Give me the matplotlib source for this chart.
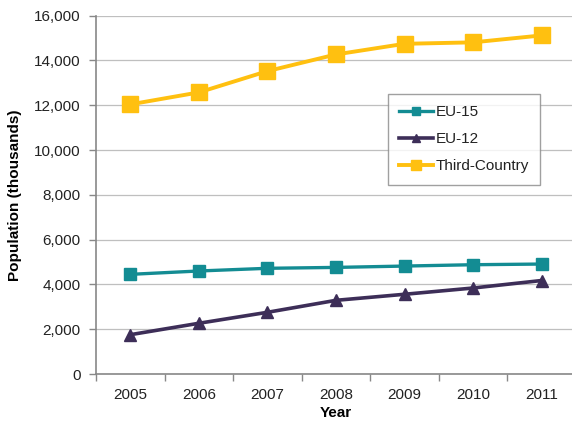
import matplotlib.pyplot as plt
import numpy as np

years = ["2005", "2006", "2007", "2008", "2009", "2010", "2011"]
eu15 = [4450, 4600, 4720, 4760, 4820, 4880, 4910]
eu12 = [1755, 2265, 2755, 3290, 3560, 3840, 4175]
third_country = [12040, 12575, 13525, 14270, 14745, 14810, 15120]
yticks = [0, 2000, 4000, 6000, 8000, 10000, 12000, 14000, 16000]

plt.rcParams['font.family'] = ['Liberation Sans', 'DejaVu Sans']

W, H = 572, 421
fig = plt.figure(figsize=(W / 100, H / 100), dpi=100)
# plot area runs past the right edge of the figure, like the original export
left, right, top, bottom = 96, 576, 15.7, 374
ax = fig.add_axes([left / W, 1 - bottom / H, (right - left) / W, (bottom - top) / H])

x = np.arange(len(years))
ax.plot(x, eu15, color="#138C93", lw=2.4, marker="s", ms=8.5, label="EU-15", zorder=3)
ax.plot(x, eu12, color="#3D2E58", lw=2.6, marker="^", ms=9, label="EU-12", zorder=3)
ax.plot(x, third_country, color="#FFC010", lw=2.8, marker="s", ms=11, label="Third-Country", zorder=3)

ax.set_xlim(-0.5, len(years) - 0.5)
ax.set_ylim(0, 16000)
ax.set_yticks(yticks)
ax.set_yticklabels([f"{v:,}" for v in yticks])
ax.set_xticks(x)
ax.set_xticklabels(years)
ax.set_xticks(np.arange(len(years) + 1) - 0.5, minor=True)
ax.tick_params(axis="x", which="major", length=0, pad=10, labelsize=11, colors="#222222")
ax.tick_params(axis="x", which="minor", length=5, color="#888888", width=1)
ax.tick_params(axis="y", length=5, color="#888888", width=1, pad=6, labelsize=11, labelcolor="#222222")

ax.grid(axis="y", color="#BFBFBF", lw=0.9)
ax.set_axisbelow(True)
for s in ["top", "right"]:
    ax.spines[s].set_visible(False)
for s in ["left", "bottom"]:
    ax.spines[s].set_color("#888888")
    ax.spines[s].set_linewidth(1.2)

ax.set_xlabel("Year", fontsize=11, fontweight="bold", labelpad=3)
ax.set_ylabel("Population (thousands)", fontsize=11, fontweight="bold", labelpad=9)

leg = ax.legend(loc="upper left", bbox_to_anchor=((388 - left) / (right - left), 1 - (94 - top) / (bottom - top)),
                frameon=True, fancybox=False, edgecolor="#888888", fontsize=11,
                handlelength=2.2, handletextpad=0.15, labelspacing=0.85, borderpad=0.75,
                borderaxespad=0, markerscale=0.6)
leg.get_frame().set_linewidth(1.0)
for t in leg.get_texts():
    t.set_color("#222222")

fig.savefig("out.png", dpi=100)
